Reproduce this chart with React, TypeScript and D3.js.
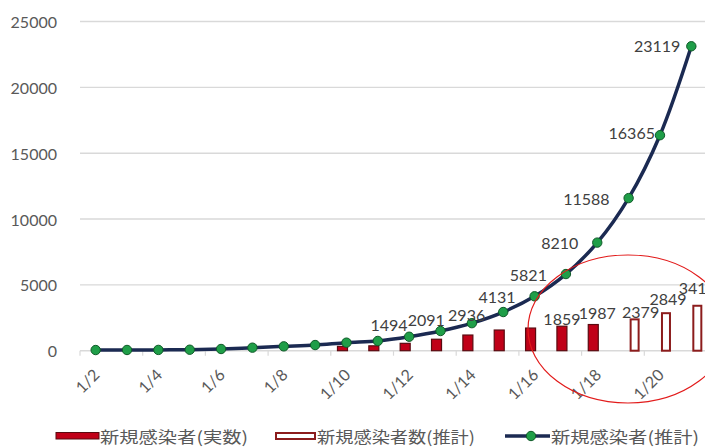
import React from "react";
import * as d3 from "d3";

// Report dates (January)
const dates = [
  "1/2", "1/3", "1/4", "1/5", "1/6", "1/7", "1/8", "1/9", "1/10", "1/11",
  "1/12", "1/13", "1/14", "1/15", "1/16", "1/17", "1/18", "1/19", "1/20", "1/21",
];

// New infections, confirmed counts (bars)
const actualCases: (number | null)[] = [
  null, null, null, null, null, null, null, null, 330, 370,
  560, 870, 1190, 1570, 1720, 1859, 1987, null, null, null,
];

// New infections, estimated counts (hollow bars)
const estimatedCases: (number | null)[] = [
  null, null, null, null, null, null, null, null, null, null,
  null, null, null, null, null, null, null, 2379, 2849, 3413,
];

// New infections, estimated trend (line)
const trendCases = [
  50, 55, 60, 75, 130, 230, 330, 430, 610, 740,
  1060, 1494, 2091, 2936, 4131, 5821, 8210, 11588, 16365, 23119,
];

const yTicks = [0, 5000, 10000, 15000, 20000, 25000];
const legendLabels = ["新規感染者(実数)", "新規感染者数(推計)", "新規感染者(推計)"];

// Which values carry a data label
const labelledActual = new Set([1859, 1987]);
const trendLabelFrom = 11;

// Fine placement of individual data labels: [dx, dy]
const trendLabelNudge: Record<string, [number, number]> = {
  "1/13": [-14, -7],
  "1/14": [-8, -4],
  "1/15": [1, 2],
  "1/20": [14, -3],
  "1/21": [8, -1],
};
const barLabelNudge: Record<string, [number, number]> = {
  "1/17": [0, 0],
  "1/18": [4, -4],
  "1/19": [6, 0],
  "1/20": [2, -7],
  "1/21": [0, -10],
};

const W = 705;
const H = 448;
const numFont = "Lato, 'Open Sans', sans-serif";
const cjkFont = "'Noto Sans CJK JP', 'Noto Sans', sans-serif";

export default function App() {
  const x = d3.scaleBand<string>().domain(dates).range([80, 80 + 31.35 * dates.length]).padding(0);
  const y = d3.scaleLinear().domain([0, 25000]).range([350.7, 21.5]);
  const slot = d3.scaleBand<string>().domain(["actual", "estimate"]).range([-9, 11]).padding(0);
  const barW = 10;
  const cx = (d: string) => (x(d) as number) + x.bandwidth() / 2;

  const line = d3
    .line<number>()
    .x((_, i) => cx(dates[i]))
    .y((v) => y(v))
    .curve(d3.curveCatmullRom.alpha(0.5));

  const tickDates = dates.filter((_, i) => i % 2 === 0);
  const boundaries = d3.range(0, dates.length + 1, 2).map((i) => 80 + i * x.bandwidth());

  return (
    <svg width={W} height={H} style={{ position: "absolute", left: 0, top: 0, background: "#fff" }}>
      {/* grid */}
      {yTicks.map((t) => (
        <line key={t} x1={80} x2={W} y1={y(t)} y2={y(t)} stroke="#d9d9d9" strokeWidth={1.4} />
      ))}
      {/* category ticks */}
      {boundaries.map((b, i) => (
        <line key={i} x1={b} x2={b} y1={y(0)} y2={y(0) + 5} stroke="#d9d9d9" strokeWidth={1.2} />
      ))}
      {/* y axis labels */}
      {yTicks.map((t) => (
        <text key={t} x={57} y={y(t)} textAnchor="end" dominantBaseline="central"
          fontFamily={numFont} fontSize={16} fill="#595959">{t}</text>
      ))}
      {/* x axis labels */}
      {tickDates.map((d) => (
        <text key={d} transform={`translate(${cx(d) + 5},${376}) rotate(-45)`} textAnchor="end"
          fontFamily={numFont} fontSize={16} fill="#595959">{d}</text>
      ))}

      {/* confirmed bars */}
      {actualCases.map((v, i) =>
        v == null ? null : (
          <rect key={`a${i}`} x={cx(dates[i]) + (slot("actual") as number)} y={y(v)} width={barW}
            height={y(0) - y(v)} fill="#c00018" stroke="#5a0a10" strokeWidth={1.2} />
        )
      )}
      {/* estimated bars */}
      {estimatedCases.map((v, i) =>
        v == null ? null : (
          <rect key={`e${i}`} x={cx(dates[i]) + (slot("estimate") as number) + 1} y={y(v)} width={barW - 2}
            height={y(0) - y(v)} fill="#fff" stroke="#8c1c1c" strokeWidth={2} />
        )
      )}

      {/* trend line */}
      <path d={line(trendCases) || ""} fill="none" stroke="#1b2a52" strokeWidth={3.5} strokeLinejoin="round" />
      {trendCases.map((v, i) => (
        <circle key={`m${i}`} cx={cx(dates[i])} cy={y(v)} r={4.7} fill="#1f9e48" stroke="#0f5a28" strokeWidth={1} />
      ))}

      {/* trend labels */}
      {trendCases.map((v, i) => {
        if (i < trendLabelFrom) return null;
        const [dx, dy] = trendLabelNudge[dates[i]] || [0, 0];
        return (
          <text key={`tl${i}`} x={cx(dates[i]) - 19 + dx} y={y(v) + dy} textAnchor="end" dominantBaseline="central"
            fontFamily={numFont} fontSize={16} fill="#404040">{v}</text>
        );
      })}
      {/* bar labels */}
      {actualCases.map((v, i) => {
        if (v == null || !labelledActual.has(v)) return null;
        const [dx, dy] = barLabelNudge[dates[i]] || [0, 0];
        return (
          <text key={`al${i}`} x={cx(dates[i]) + (slot("actual") as number) + barW / 2 + dx} y={y(v) - 8 + dy}
            textAnchor="middle" dominantBaseline="central" fontFamily={numFont} fontSize={16} fill="#404040">{v}</text>
        );
      })}
      {estimatedCases.map((v, i) => {
        if (v == null) return null;
        const [dx, dy] = barLabelNudge[dates[i]] || [0, 0];
        return (
          <text key={`el${i}`} x={cx(dates[i]) + (slot("estimate") as number) + barW / 2 + dx} y={y(v) - 8 + dy}
            textAnchor="middle" dominantBaseline="central" fontFamily={numFont} fontSize={16} fill="#404040">{v}</text>
        );
      })}

      {/* highlight ring */}
      <ellipse cx={628} cy={329} rx={100} ry={74} fill="none" stroke="#e21b1b" strokeWidth={1.2} />

      {/* legend */}
      <g fontFamily={cjkFont} fontSize={16} fill="#595959">
        <rect x={56} y={432.5} width={43} height={6.5} fill="#c00018" stroke="#5a0a10" strokeWidth={1} />
        <text x={100} y={436} dominantBaseline="central" textLength={148} lengthAdjust="spacingAndGlyphs">{legendLabels[0]}</text>
        <rect x={276} y={433} width={39} height={6} fill="#fff" stroke="#8c1c1c" strokeWidth={2} />
        <text x={317} y={436} dominantBaseline="central" textLength={158} lengthAdjust="spacingAndGlyphs">{legendLabels[1]}</text>
        <line x1={505} x2={550} y1={436} y2={436} stroke="#1b2a52" strokeWidth={3.5} />
        <circle cx={531} cy={436} r={4.7} fill="#1f9e48" stroke="#0f5a28" strokeWidth={1} />
        <text x={551} y={436} dominantBaseline="central" textLength={148} lengthAdjust="spacingAndGlyphs">{legendLabels[2]}</text>
      </g>
    </svg>
  );
}
